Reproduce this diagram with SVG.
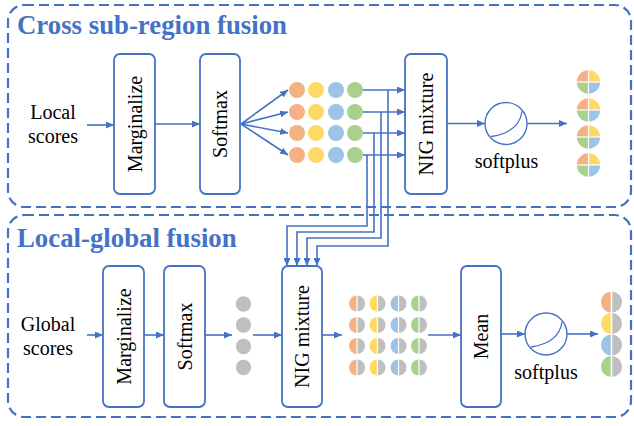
<svg xmlns="http://www.w3.org/2000/svg" xmlns:xlink="http://www.w3.org/1999/xlink" width="634" height="426" viewBox="0 0 634 426">
<style>
.frame{fill:none;stroke:#4472C4;stroke-width:2.2;stroke-dasharray:10 5}
.title{font-family:'Liberation Serif','DejaVu Serif',serif;font-weight:bold;font-size:26.8px;fill:#4472C4}
.box{fill:#fff;stroke:#4472C4;stroke-width:1.8}
.lbl{font-family:'Liberation Serif','DejaVu Serif',serif;font-size:20px;fill:#000;text-anchor:middle}
.rot{dominant-baseline:central}
.ln{fill:none;stroke:#4472C4;stroke-width:1.6}
.arr{marker-end:url(#ah)}
.circ{fill:#fff;stroke:#4472C4;stroke-width:1.4}
.sep{stroke:#fff;stroke-width:1.2}
</style>
<defs>
<marker id="ah" markerUnits="userSpaceOnUse" markerWidth="8" markerHeight="7" refX="8" refY="3.5" orient="auto">
<path d="M0,0 L8,3.5 L0,7 z" fill="#4472C4"/>
</marker>
<g id="hd-o"><path d="M0,-8 A8,8 0 0 0 0,8Z" fill="#F4B183"/><path d="M0,-8 A8,8 0 0 1 0,8Z" fill="#BFBFBF"/><line class="sep" x1="0" y1="-8" x2="0" y2="8"/></g>
<g id="hd-y"><path d="M0,-8 A8,8 0 0 0 0,8Z" fill="#FFD966"/><path d="M0,-8 A8,8 0 0 1 0,8Z" fill="#BFBFBF"/><line class="sep" x1="0" y1="-8" x2="0" y2="8"/></g>
<g id="hd-b"><path d="M0,-8 A8,8 0 0 0 0,8Z" fill="#9DC3E6"/><path d="M0,-8 A8,8 0 0 1 0,8Z" fill="#BFBFBF"/><line class="sep" x1="0" y1="-8" x2="0" y2="8"/></g>
<g id="hd-g"><path d="M0,-8 A8,8 0 0 0 0,8Z" fill="#A9D18E"/><path d="M0,-8 A8,8 0 0 1 0,8Z" fill="#BFBFBF"/><line class="sep" x1="0" y1="-8" x2="0" y2="8"/></g>
<g id="qd">
<path d="M0,0 L-11.7,0 A11.7,11.7 0 0 1 0,-11.7Z" fill="#F4B183"/>
<path d="M0,0 L0,-11.7 A11.7,11.7 0 0 1 11.7,0Z" fill="#FFD966"/>
<path d="M0,0 L11.7,0 A11.7,11.7 0 0 1 0,11.7Z" fill="#9DC3E6"/>
<path d="M0,0 L0,11.7 A11.7,11.7 0 0 1 -11.7,0Z" fill="#A9D18E"/>
<line class="sep" x1="-12" y1="0" x2="12" y2="0"/><line class="sep" x1="0" y1="-12" x2="0" y2="12"/>
</g>
<g id="sp"><circle class="circ" cx="0" cy="0" r="21"/><path class="ln" style="stroke-width:1.3" d="M-15,13 Q13,9 16,-12"/></g>
</defs>

<g id="frame-top">
<rect class="frame" x="8" y="5" width="623" height="202" rx="16"/>
<text class="title" x="17" y="34">Cross sub-region fusion</text>
</g>
<g id="frame-bottom">
<rect class="frame" x="8" y="215" width="623" height="202" rx="16"/>
<text class="title" x="17" y="247">Local-global fusion</text>
</g>

<g id="connectors">
<line class="ln arr" x1="87" y1="125" x2="114" y2="125"/>
<line class="ln arr" x1="155" y1="124" x2="200" y2="124"/>
<line class="ln arr" x1="241" y1="124" x2="288" y2="90"/>
<line class="ln arr" x1="241" y1="124" x2="288" y2="112"/>
<line class="ln arr" x1="241" y1="124" x2="288" y2="133"/>
<line class="ln arr" x1="241" y1="124" x2="288" y2="155"/>
<line class="ln arr" x1="363" y1="90" x2="405" y2="90"/>
<line class="ln arr" x1="363" y1="112" x2="405" y2="112"/>
<line class="ln arr" x1="363" y1="133" x2="405" y2="133"/>
<line class="ln arr" x1="363" y1="155" x2="405" y2="155"/>
<line class="ln arr" x1="447" y1="123.5" x2="485" y2="123.5"/>
<line class="ln arr" x1="527" y1="123.5" x2="567" y2="123.5"/>
<path class="ln arr" d="M367,155 V226 H287 V266"/>
<path class="ln arr" d="M374,133 V232 H297 V266"/>
<path class="ln arr" d="M381,112 V238 H307 V266"/>
<path class="ln arr" d="M388,90 V246 H317 V266"/>
<line class="ln arr" x1="87" y1="335" x2="103" y2="335"/>
<line class="ln arr" x1="144" y1="335" x2="164" y2="335"/>
<line class="ln arr" x1="205" y1="335" x2="232" y2="335"/>
<line class="ln arr" x1="253" y1="335" x2="282" y2="335"/>
<line class="ln arr" x1="322" y1="335" x2="342" y2="335"/>
<line class="ln arr" x1="428" y1="335" x2="461" y2="335"/>
<line class="ln arr" x1="501" y1="334" x2="525" y2="334"/>
<line class="ln arr" x1="567" y1="334" x2="598" y2="334"/>
</g>

<g id="local-scores"><text class="lbl" x="53" y="119">Local</text><text class="lbl" x="53" y="143">scores</text></g>
<g id="marginalize-top"><rect class="box" x="114" y="54" width="41" height="140" rx="6"/><text class="lbl rot" transform="translate(135,124) rotate(-90)">Marginalize</text></g>
<g id="softmax-top"><rect class="box" x="200" y="54" width="40" height="140" rx="6"/><text class="lbl rot" transform="translate(220,124) rotate(-90)">Softmax</text></g>
<g id="dots-top">
<g fill="#F4B183"><circle cx="297" cy="90" r="8"/><circle cx="297" cy="112" r="8"/><circle cx="297" cy="133" r="8"/><circle cx="297" cy="155" r="8"/></g>
<g fill="#FFD966"><circle cx="316" cy="90" r="8"/><circle cx="316" cy="112" r="8"/><circle cx="316" cy="133" r="8"/><circle cx="316" cy="155" r="8"/></g>
<g fill="#9DC3E6"><circle cx="336" cy="90" r="8"/><circle cx="336" cy="112" r="8"/><circle cx="336" cy="133" r="8"/><circle cx="336" cy="155" r="8"/></g>
<g fill="#A9D18E"><circle cx="355" cy="90" r="8"/><circle cx="355" cy="112" r="8"/><circle cx="355" cy="133" r="8"/><circle cx="355" cy="155" r="8"/></g>
</g>
<g id="nig-top"><rect class="box" x="405" y="54" width="42" height="140" rx="6"/><text class="lbl rot" transform="translate(426,124) rotate(-90)">NIG mixture</text></g>
<g id="softplus-top"><use href="#sp" transform="translate(506,123.5)"/><text class="lbl" x="506.5" y="168">softplus</text></g>
<g id="result-top">
<use href="#qd" transform="translate(588.5,82)"/>
<use href="#qd" transform="translate(588.5,110)"/>
<use href="#qd" transform="translate(588.5,137)"/>
<use href="#qd" transform="translate(588.5,165)"/>
</g>

<g id="global-scores"><text class="lbl" x="48" y="331">Global</text><text class="lbl" x="48" y="355">scores</text></g>
<g id="marginalize-bottom"><rect class="box" x="103" y="266" width="41" height="141" rx="6"/><text class="lbl rot" transform="translate(123.5,336.5) rotate(-90)">Marginalize</text></g>
<g id="softmax-bottom"><rect class="box" x="164" y="266" width="41" height="141" rx="6"/><text class="lbl rot" transform="translate(184.5,336.5) rotate(-90)">Softmax</text></g>
<g id="dots-gray" fill="#BFBFBF">
<circle cx="243.5" cy="304" r="7.7"/><circle cx="243.5" cy="325" r="7.7"/><circle cx="243.5" cy="346.5" r="7.7"/><circle cx="243.5" cy="367.5" r="7.7"/>
</g>
<g id="nig-bottom"><rect class="box" x="282" y="266" width="40" height="141" rx="6"/><text class="lbl rot" transform="translate(302,336.5) rotate(-90)">NIG mixture</text></g>
<g id="half-grid">
<use href="#hd-o" transform="translate(357,303.5)"/><use href="#hd-y" transform="translate(377.5,303.5)"/><use href="#hd-b" transform="translate(398.5,303.5)"/><use href="#hd-g" transform="translate(419,303.5)"/>
<use href="#hd-o" transform="translate(357,325)"/><use href="#hd-y" transform="translate(377.5,325)"/><use href="#hd-b" transform="translate(398.5,325)"/><use href="#hd-g" transform="translate(419,325)"/>
<use href="#hd-o" transform="translate(357,346)"/><use href="#hd-y" transform="translate(377.5,346)"/><use href="#hd-b" transform="translate(398.5,346)"/><use href="#hd-g" transform="translate(419,346)"/>
<use href="#hd-o" transform="translate(357,367.5)"/><use href="#hd-y" transform="translate(377.5,367.5)"/><use href="#hd-b" transform="translate(398.5,367.5)"/><use href="#hd-g" transform="translate(419,367.5)"/>
</g>
<g id="mean"><rect class="box" x="461" y="266" width="40" height="141" rx="6"/><text class="lbl rot" transform="translate(481,336.5) rotate(-90)">Mean</text></g>
<g id="softplus-bottom"><use href="#sp" transform="translate(546,334)"/><text class="lbl" x="546" y="379">softplus</text></g>
<g id="result-bottom">
<use href="#hd-o" transform="translate(611.5,302) scale(1.32)"/>
<use href="#hd-y" transform="translate(611.5,323.5) scale(1.32)"/>
<use href="#hd-b" transform="translate(611.5,345) scale(1.32)"/>
<use href="#hd-g" transform="translate(611.5,366.5) scale(1.32)"/>
</g>
</svg>
